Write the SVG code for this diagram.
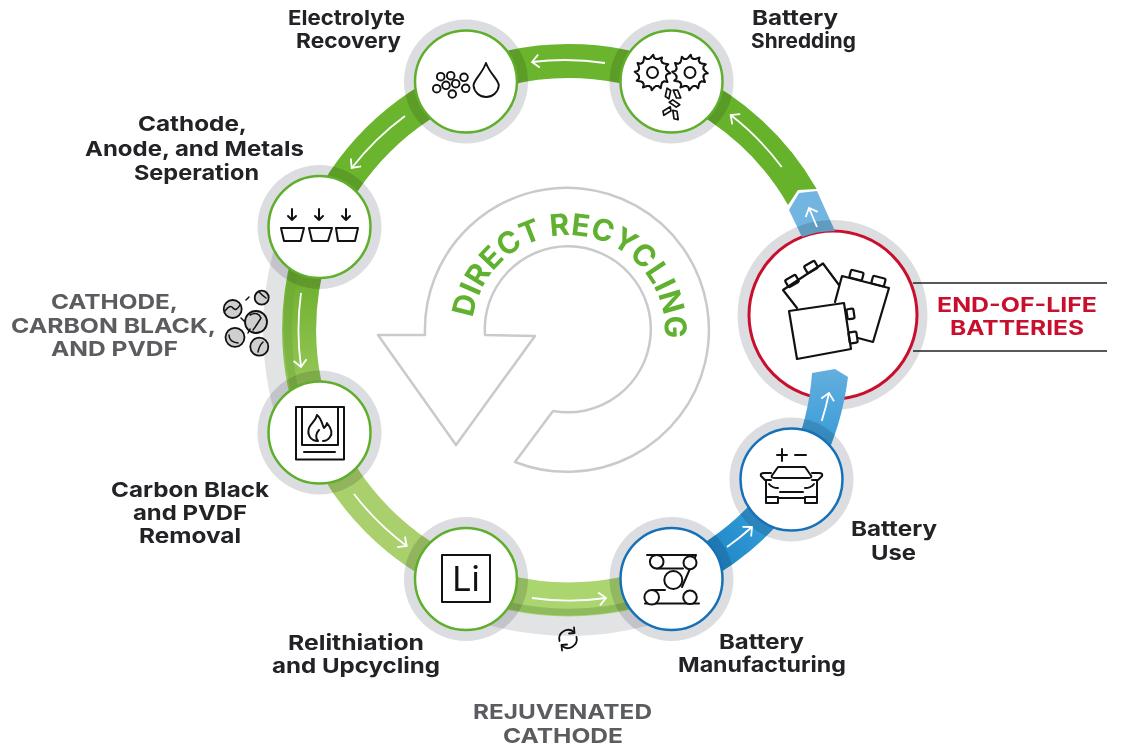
<svg xmlns="http://www.w3.org/2000/svg" xmlns:xlink="http://www.w3.org/1999/xlink" width="1127" height="756" viewBox="0 0 1127 756">
<style>
text{font-family:Inter,"Liberation Sans",sans-serif;font-weight:700;text-anchor:middle;font-size:20.5px}
.lb{fill:#222326}
.gl{fill:#5b5c5f}
.rl{fill:#c8102e}
.ring{fill:#dcdde0;mix-blend-mode:multiply}
.disc{fill:#fff;stroke-width:2.5}
.g{stroke:#5fae2c}
.b{stroke:#1671b8}
.ic{fill:none;stroke:#111;stroke-width:2;stroke-linejoin:round;stroke-linecap:round}
.ar{fill:none;stroke:#fff;stroke-width:1.8;marker-end:url(#h)}
.band{fill:none;stroke-width:34}
.gb{fill:none;stroke:#e2e3e5;stroke-width:37}
.p{fill:#cfcfcf;stroke:#111;stroke-width:1.8}
</style>
<defs>
<marker id="h" markerUnits="userSpaceOnUse" markerWidth="20" markerHeight="20" viewBox="-10 -10 20 20" orient="auto" refX="0" refY="0"><path d="M-7-6.5L0 0L-7 6.5" fill="none" stroke="#fff" stroke-width="1.8"/></marker>
<linearGradient id="sc" gradientUnits="userSpaceOnUse" x1="0" y1="280" x2="0" y2="385"><stop offset="0" stop-color="#6fb030"/><stop offset="1" stop-color="#96c758"/></linearGradient>
<linearGradient id="mu" gradientUnits="userSpaceOnUse" x1="700" y1="560" x2="780" y2="500"><stop offset="0" stop-color="#1d84c5"/><stop offset="1" stop-color="#3ba3de"/></linearGradient>
<linearGradient id="ue" gradientUnits="userSpaceOnUse" x1="0" y1="470" x2="0" y2="370"><stop offset="0" stop-color="#2a95d6"/><stop offset="1" stop-color="#63afdd"/></linearGradient>
<clipPath id="eolring"><circle cx="832.5" cy="315" r="95"/></clipPath>
<g id="tooth"><path d="M-3.6-13.5L-2-14.5L.8-17.8L1.6-14.6L3.6-13.5"/></g>
<g id="gear" class="ic"><use href="#tooth"/><use href="#tooth" transform="rotate(30)"/><use href="#tooth" transform="rotate(60)"/><use href="#tooth" transform="rotate(90)"/><use href="#tooth" transform="rotate(120)"/><use href="#tooth" transform="rotate(150)"/><use href="#tooth" transform="rotate(180)"/><use href="#tooth" transform="rotate(210)"/><use href="#tooth" transform="rotate(240)"/><use href="#tooth" transform="rotate(270)"/><use href="#tooth" transform="rotate(300)"/><use href="#tooth" transform="rotate(330)"/><circle r="5.5"/></g>
<polygon id="leaf" class="ic" style="stroke-width:1.7" points="-2,-5 2,-3.5 2,5 -2,3.500"/>
</defs>
<rect width="1127" height="756" fill="#fff"/>

<g id="direct-recycling">
<path d="M425 335L378 335L456 445L535 336L485 335A83 83 0 1 1 553 411L515 462A142 142 0 1 0 425 335Z" fill="#fff" stroke="#c9cacc" stroke-width="2.5" stroke-linejoin="round"/>
<path id="arc" d="M473 318A96 96 0 1 1 664 345" fill="none"/>
<text style="font-size:30px;fill:#5fb12f;text-anchor:start"><textPath href="#arc" startOffset="0" textLength="296" lengthAdjust="spacing">DIRECT RECYCLING</textPath></text>
</g>

<g id="node-eol">
<circle class="ring" cx="832.5" cy="315" r="95"/>
<circle class="disc" cx="833" cy="315" r="84" stroke="#c8102e" style="stroke-width:3"/>
<g class="ic" style="stroke-width:2.2">
<path d="M797 308L783 290L823 263.5L839 285"/>
<rect x="786" y="277" width="12" height="8" rx="1.5" transform="rotate(-30 792 281)"/>
<rect x="805" y="263" width="12" height="8" rx="1.5" transform="rotate(-30 811 267)"/>
<path d="M835 302L842 276L889 288L873 342L858 338"/>
<rect x="850" y="271" width="13" height="8" rx="1.5" transform="rotate(15 856 275)"/>
<rect x="872" y="277" width="13" height="8" rx="1.5" transform="rotate(15 878 281)"/>
<path d="M789 311L844 303L851 349L797 359Z"/>
<rect x="847" y="309" width="7" height="10" rx="1.5" transform="rotate(-8 850 314)"/>
<rect x="849" y="332" width="8" height="11" rx="1.5" transform="rotate(-8 853 337)"/>
</g>
<path d="M913 283H1107M913 351H1107" stroke="#222" stroke-width="1.5" fill="none"/>
<text class="rl" x="1017" y="312" textLength="160" lengthAdjust="spacingAndGlyphs">END-OF-LIFE</text>
<text class="rl" x="1017" y="335" textLength="134" lengthAdjust="spacingAndGlyphs">BATTERIES</text>
</g>

<g id="connectors">
<path class="gb" d="M303.3 220.4A287.5 287.5 0 0 0 303.3 439.6"/>
<path class="gb" d="M459.4 595.7A287.5 287.5 0 0 0 678.6 595.7"/>
<path d="M690 72A285 285 0 0 1 816.7 189L798 190L788 205A252 252 0 0 0 676 102Z" fill="#66b32b"/>
<path class="band" stroke="#6ab52d" d="M671.5 81.5A269 269 0 0 0 466 81.5"/>
<path class="band" stroke="#6ab52d" d="M466 81.5A269 269 0 0 0 319.5 227"/>
<path class="band" stroke="url(#sc)" d="M319.5 227A269 269 0 0 0 319.5 432.5"/>
<path fill="none" stroke="#6ca636" stroke-opacity=".4" stroke-width="8" d="M295.600 265A281 281 0 0 0 295.600 395"/>
<path class="band" stroke="#a9d06c" d="M319.5 432.5A269 269 0 0 0 466 579"/>
<path class="band" stroke="#aad56f" d="M466 579A269 269 0 0 0 671.5 579"/>
<path fill="none" stroke="#8fbb5c" stroke-width="7" d="M490 600.700A282 282 0 0 0 648 600.700"/>
<path class="band" stroke="url(#mu)" d="M671.5 579A269 269 0 0 0 791.5 479.5"/>
<path d="M812 373L835 369L848 377A286 286 0 0 1 820 470L790 460A250 250 0 0 0 812 373Z" fill="url(#ue)"/>
<path d="M789 210L799 193L817 191L835 231A85 85 0 0 0 802 237Z" fill="#72b5e0"/>
<path d="M789 210L799 193L817 191L835 231A85 85 0 0 0 802 237Z" fill="#000" fill-opacity=".14" clip-path="url(#eolring)"/>
<path class="ar" d="M781.7 167A269 269 0 0 0 730.7 115"/>
<path class="ar" d="M605 63A269 269 0 0 0 532 62"/>
<path class="ar" d="M405 116A269 269 0 0 0 351.7 168"/>
<path class="ar" d="M301 293A269 269 0 0 0 301 367"/>
<path class="ar" d="M354 494A269 269 0 0 0 406.7 546"/>
<path class="ar" d="M532 598A269 269 0 0 0 606 598"/>
<path class="ar" d="M727 547A269 269 0 0 0 752 527"/>
<path class="ar" d="M821.7 421A269 269 0 0 0 829 393"/>
<path class="ar" d="M817 227L809 208"/>
</g>

<g id="node-electrolyte">
<circle class="ring" cx="466" cy="81.5" r="62"/>
<circle class="disc g" cx="466" cy="81.5" r="51"/>
<g class="ic" style="stroke-width:1.9">
<circle cx="440.7" cy="76.7" r="3.8"/><circle cx="450.7" cy="75.7" r="3.8"/><circle cx="464" cy="77.3" r="3.8"/><circle cx="436.7" cy="88.7" r="3.8"/><circle cx="446" cy="85.3" r="3.8"/><circle cx="455.7" cy="83.7" r="3.8"/><circle cx="465.7" cy="88.3" r="3.8"/><circle cx="452.3" cy="94" r="3.8"/>
<path d="M486 63C482 74 473.5 80 473.5 85.5A12.7 12.7 0 0 0 498.8 85.5C498.8 80 490 74 486 63Z"/>
</g>
<text class="lb" x="346.5" y="25" textLength="117" lengthAdjust="spacingAndGlyphs">Electrolyte</text>
<text class="lb" x="348.5" y="48" textLength="105" lengthAdjust="spacingAndGlyphs">Recovery</text>
</g>

<g id="node-shredding">
<circle class="ring" cx="671.5" cy="81.5" r="62"/>
<circle class="disc g" cx="671.5" cy="81.5" r="51"/>
<use href="#gear" x="652.5" y="72.5"/>
<use href="#gear" x="690" y="72.5"/>
<use href="#leaf" transform="translate(668 93.5) rotate(12)"/>
<use href="#leaf" transform="translate(677 94) rotate(-22)"/>
<use href="#leaf" transform="translate(674.5 103.5) rotate(-55)"/>
<use href="#leaf" transform="translate(667 111) rotate(58)"/>
<use href="#leaf" transform="translate(675.5 115) rotate(-8)"/>
<text class="lb" x="795" y="25" textLength="86" lengthAdjust="spacingAndGlyphs">Battery</text>
<text class="lb" x="803.5" y="48" textLength="105" lengthAdjust="spacingAndGlyphs">Shredding</text>
</g>

<g id="node-separation">
<circle class="ring" cx="319.5" cy="227" r="62"/>
<circle class="disc g" cx="319.5" cy="227" r="51"/>
<g class="ic">
<path d="M281 228H304L300.7 241H284Z"/><path d="M309 228H332L328 241H312Z"/><path d="M336 228H358L355 241H338Z"/>
<path d="M292 209V220M288 216L292 220L296 216M319 209V220M315 216L319 220L323 216M346 209V220M342 216L346 220L350 216"/>
</g>
<text class="lb" x="192.5" y="131" textLength="109" lengthAdjust="spacingAndGlyphs">Cathode,</text>
<text class="lb" x="194.5" y="156" textLength="219" lengthAdjust="spacingAndGlyphs">Anode, and Metals</text>
<text class="lb" x="196.5" y="180" textLength="125" lengthAdjust="spacingAndGlyphs">Seperation</text>
</g>

<g id="node-carbon">
<circle class="ring" cx="319.5" cy="432.5" r="62"/>
<circle class="disc g" cx="319.5" cy="432.5" r="51"/>
<g class="ic">
<path d="M296 407H344V459.5H296ZM302 407V445H338V407M304 452H335"/>
<path d="M318 441C310 441 307 434 309 428C311 423 316 421 317 415C322 419 322 425 324 428C326 426 327 425 327 423C331 428 333 433 330 437C328 440 326 441 323 441M318 441C315 438 316 433 319 430"/>
</g>
<text class="lb" x="190" y="497" textLength="158" lengthAdjust="spacingAndGlyphs">Carbon Black</text>
<text class="lb" x="190" y="520" textLength="114" lengthAdjust="spacingAndGlyphs">and PVDF</text>
<text class="lb" x="190" y="543" textLength="102" lengthAdjust="spacingAndGlyphs">Removal</text>
</g>

<g id="node-li">
<circle class="ring" cx="466" cy="579" r="62"/>
<circle class="disc g" cx="466" cy="579" r="51"/>
<rect class="ic" x="442" y="555" width="48" height="47"/>
<text x="466" y="591" style="font-size:34px;font-weight:400;fill:#111">Li</text>
<text class="lb" x="356" y="650" textLength="136" lengthAdjust="spacingAndGlyphs">Relithiation</text>
<text class="lb" x="356" y="673" textLength="168" lengthAdjust="spacingAndGlyphs">and Upcycling</text>
</g>

<g id="node-manufacturing">
<circle class="ring" cx="671.5" cy="579" r="62"/>
<circle class="disc b" cx="671.5" cy="579" r="51"/>
<g class="ic">
<path d="M647 555H696L682 587M652 590H665M657 568.5H683M645 603.5H699"/>
<circle cx="656.7" cy="561.7" r="6.8" fill="#fff"/><circle cx="690" cy="562.7" r="6.5" fill="#fff"/><circle cx="673.3" cy="580" r="9" fill="#fff"/><circle cx="651.7" cy="597.3" r="7.3" fill="#fff"/><circle cx="690" cy="597.3" r="6.8" fill="#fff"/>
</g>
<text class="lb" x="761.5" y="649" textLength="85" lengthAdjust="spacingAndGlyphs">Battery</text>
<text class="lb" x="762" y="672" textLength="168" lengthAdjust="spacingAndGlyphs">Manufacturing</text>
</g>

<g id="node-use">
<circle class="ring" cx="791.5" cy="479.5" r="62"/>
<circle class="disc b" cx="791.5" cy="479.5" r="51"/>
<g class="ic">
<path d="M777 455H787M782 449V461M795 455H806"/>
<path d="M771.700 476L778 467H805L811.300 476Q812 478 808 478H775Q771 478 771.700 476Z"/>
<path d="M771 473H764Q760 473 761 476L765 480H771M812 473H819Q823 473 822 476L818 480H812"/>
<path d="M766 480V503H778V498H805V503H817V480"/>
<path d="M769 484Q772 488 778 488M814 484Q811 488 805 488M780 492H803M767 497H778M805 497H816"/>
</g>
<text class="lb" x="894" y="536" textLength="86" lengthAdjust="spacingAndGlyphs">Battery</text>
<text class="lb" x="893.5" y="560" textLength="45" lengthAdjust="spacingAndGlyphs">Use</text>
</g>

<g id="cathode-carbon-pvdf">
<circle class="p" cx="232.700" cy="309" r="9"/><circle class="p" cx="261.700" cy="297.700" r="7"/><circle class="p" cx="256" cy="322" r="11"/><circle class="p" cx="235" cy="337.300" r="9.500"/><circle class="p" cx="259.300" cy="346.700" r="9"/>
<path class="ic" style="stroke-width:1.5" d="M225 311Q230 304 233 308T240 305M259 292Q263 296 266 298M250 315Q258 311 261 318Q256 326 253 330M229 335Q229 342 238 343M258 352Q259 346 263 342M246 300L249 297M241 318L245 322M248 333L250 329"/>
<text class="gl" x="114.500" y="309" textLength="127" lengthAdjust="spacingAndGlyphs">CATHODE,</text>
<text class="gl" x="113.500" y="333" textLength="205" lengthAdjust="spacingAndGlyphs">CARBON BLACK,</text>
<text class="gl" x="114.500" y="356" textLength="127" lengthAdjust="spacingAndGlyphs">AND PVDF</text>
</g>

<g id="rejuvenated-cathode">
<g class="ic" style="stroke-width:1.8">
<path d="M559.500 641A9 9 0 0 1 574 632M576.500 637A9 9 0 0 1 562 646"/>
<path d="M574 627.500L574.500 633L569 633.500M562 650.500L561.500 645L567 644.500"/>
</g>
<text class="gl" x="562.500" y="719" textLength="179" lengthAdjust="spacingAndGlyphs">REJUVENATED</text>
<text class="gl" x="563" y="743" textLength="120" lengthAdjust="spacingAndGlyphs">CATHODE</text>
</g>
</svg>
